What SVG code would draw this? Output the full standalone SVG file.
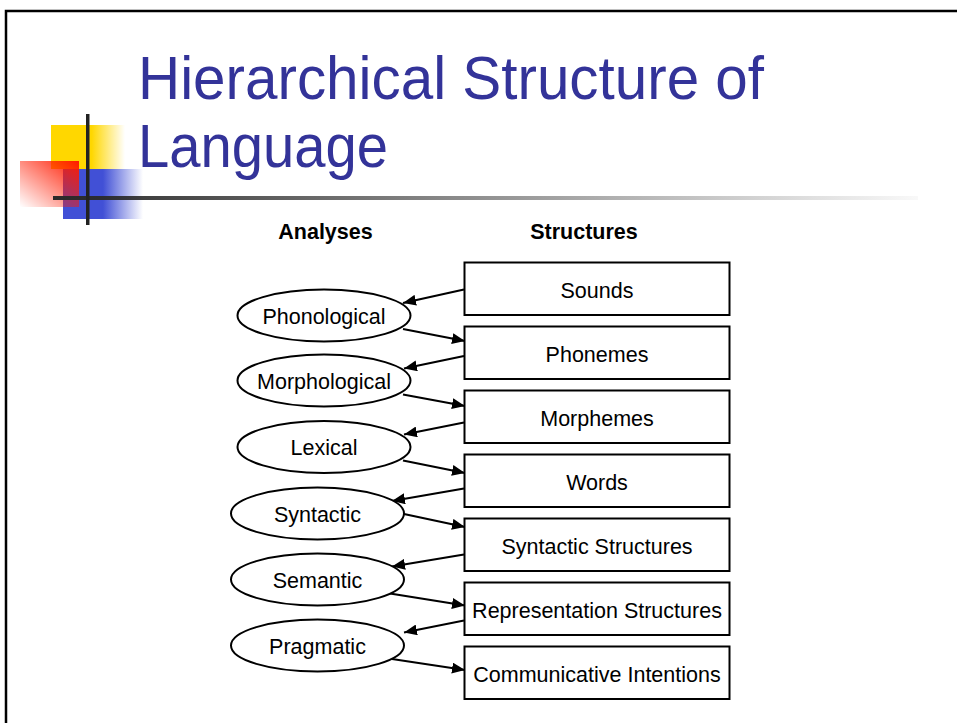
<svg xmlns="http://www.w3.org/2000/svg" width="957" height="723" viewBox="0 0 957 723">
<style>
.title{font-family:"Liberation Sans",Arial,sans-serif;font-size:61px;fill:#333399}
.hdr{font-family:"Liberation Sans",Arial,sans-serif;font-size:21.5px;font-weight:bold;fill:#000;text-anchor:middle}
.lbl{font-family:"Liberation Sans",Arial,sans-serif;font-size:21.5px;fill:#000;text-anchor:middle}
.box{fill:#fff;stroke:#000;stroke-width:2}
.ell{fill:#fff;stroke:#000;stroke-width:2}
.conn line{stroke:#000;stroke-width:2.2;marker-end:url(#ah)}
</style>
<defs>
<marker id="ah" markerUnits="userSpaceOnUse" markerWidth="14" markerHeight="11" refX="13" refY="5.5" orient="auto">
<path d="M0,0 L13,5.5 L0,11 z" fill="#000"/>
</marker>
<linearGradient id="gy" x1="0" y1="0" x2="1" y2="0">
<stop offset="0" stop-color="#FFD700"/><stop offset="0.55" stop-color="#FFD700"/><stop offset="1" stop-color="#FFD700" stop-opacity="0"/>
</linearGradient>
<linearGradient id="gb" x1="0" y1="0" x2="1" y2="0">
<stop offset="0" stop-color="#4150D6"/><stop offset="0.5" stop-color="#4150D6"/><stop offset="1" stop-color="#4150D6" stop-opacity="0"/>
</linearGradient>
<linearGradient id="gr" x1="1" y1="0" x2="0" y2="1">
<stop offset="0" stop-color="#FF1A00"/><stop offset="1" stop-color="#FF1A00" stop-opacity="0"/>
</linearGradient>
<linearGradient id="gl" x1="0" y1="0" x2="1" y2="0">
<stop offset="0" stop-color="#2a2a2a"/><stop offset="1" stop-color="#2a2a2a" stop-opacity="0.03"/>
</linearGradient>
</defs>
<rect width="957" height="723" fill="#fff"/>
<rect x="6" y="11" width="1000" height="800" fill="none" stroke="#000" stroke-width="2.5"/>
<g id="decor">
<rect x="51" y="125" width="74" height="44" fill="url(#gy)"/>
<rect x="63" y="169" width="80" height="50" fill="url(#gb)"/>
<rect x="20" y="161" width="59" height="46" fill="url(#gr)"/>
<rect x="53" y="196" width="865" height="4" fill="url(#gl)"/>
<rect x="86" y="114" width="3.5" height="111" fill="#222"/>
</g>
<g id="title">
<text class="title" x="138" y="99" textLength="626" lengthAdjust="spacingAndGlyphs">Hierarchical Structure of</text>
<text class="title" x="138" y="167" textLength="250" lengthAdjust="spacingAndGlyphs">Language</text>
</g>
<g id="headers">
<text class="hdr" x="325.5" y="239">Analyses</text>
<text class="hdr" x="584" y="239">Structures</text>
</g>
<g id="connectors" class="conn">
<line x1="464" y1="289.5" x2="403" y2="303"/>
<line x1="403" y1="329" x2="465" y2="341"/>
<line x1="464" y1="356" x2="404" y2="368.5"/>
<line x1="403" y1="394.5" x2="465" y2="406"/>
<line x1="464" y1="422.5" x2="404" y2="434.5"/>
<line x1="403" y1="460.5" x2="465" y2="473"/>
<line x1="464" y1="488.5" x2="392" y2="501"/>
<line x1="404" y1="514" x2="465" y2="527"/>
<line x1="464" y1="554.5" x2="392" y2="566.5"/>
<line x1="390" y1="593.5" x2="465" y2="605.5"/>
<line x1="464" y1="620.5" x2="404" y2="632.5"/>
<line x1="392" y1="659" x2="465" y2="670"/>
</g>
<g id="n-sounds"><rect class="box" x="464.5" y="262.5" width="265" height="52.5"/><text class="lbl" x="597" y="297.5">Sounds</text></g>
<g id="n-phonemes"><rect class="box" x="464.5" y="326.5" width="265" height="52.5"/><text class="lbl" x="597" y="361.5">Phonemes</text></g>
<g id="n-morphemes"><rect class="box" x="464.5" y="390.5" width="265" height="52.5"/><text class="lbl" x="597" y="425.5">Morphemes</text></g>
<g id="n-words"><rect class="box" x="464.5" y="454.5" width="265" height="52.5"/><text class="lbl" x="597" y="489.5">Words</text></g>
<g id="n-synstruct"><rect class="box" x="464.5" y="518.5" width="265" height="52.5"/><text class="lbl" x="597" y="553.5">Syntactic Structures</text></g>
<g id="n-repstruct"><rect class="box" x="464.5" y="582.5" width="265" height="52.5"/><text class="lbl" x="597" y="617.5">Representation Structures</text></g>
<g id="n-commint"><rect class="box" x="464.5" y="646.5" width="265" height="52.5"/><text class="lbl" x="597" y="681.5">Communicative Intentions</text></g>
<g id="n-phonological"><ellipse class="ell" cx="324" cy="315.5" rx="86.5" ry="26"/><text class="lbl" x="324" y="323.5">Phonological</text></g>
<g id="n-morphological"><ellipse class="ell" cx="324" cy="380.5" rx="86.5" ry="26"/><text class="lbl" x="324" y="388.5">Morphological</text></g>
<g id="n-lexical"><ellipse class="ell" cx="324" cy="447" rx="86.5" ry="26"/><text class="lbl" x="324" y="455">Lexical</text></g>
<g id="n-syntactic"><ellipse class="ell" cx="317.5" cy="513.5" rx="86.5" ry="26"/><text class="lbl" x="317.5" y="521.5">Syntactic</text></g>
<g id="n-semantic"><ellipse class="ell" cx="317.5" cy="579.5" rx="86.5" ry="26"/><text class="lbl" x="317.5" y="587.5">Semantic</text></g>
<g id="n-pragmatic"><ellipse class="ell" cx="317.5" cy="645.5" rx="86.5" ry="26"/><text class="lbl" x="317.5" y="653.5">Pragmatic</text></g>
</svg>
